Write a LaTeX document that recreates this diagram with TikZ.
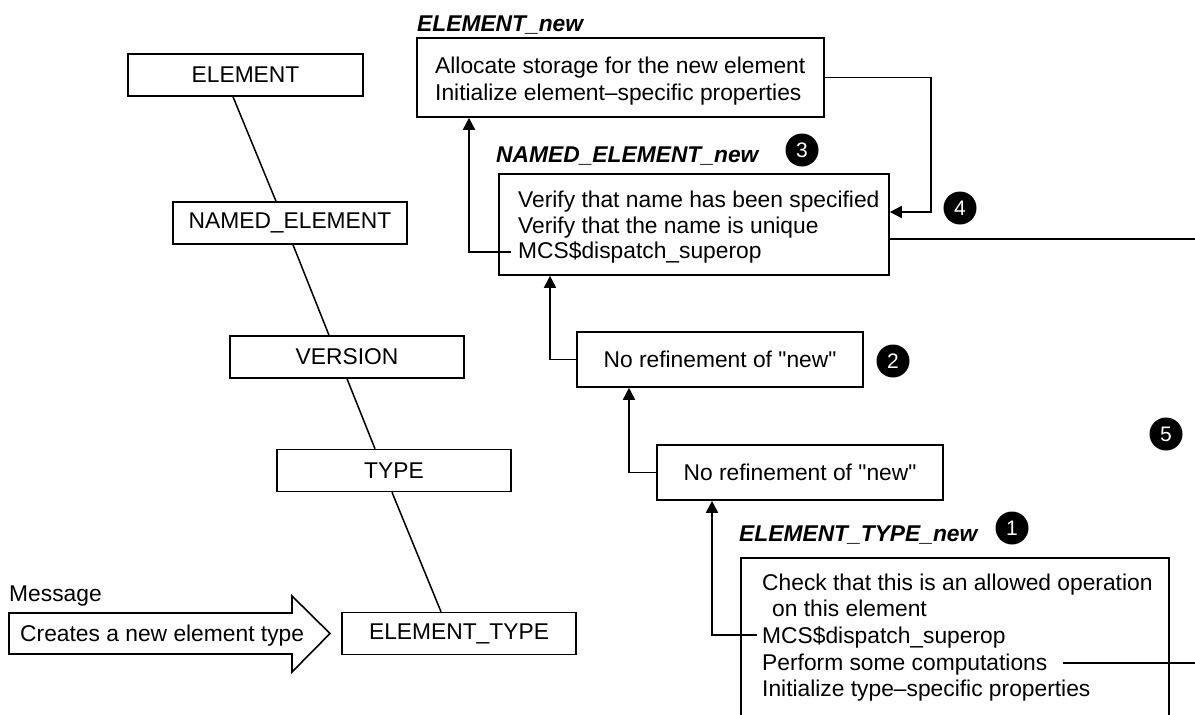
\documentclass[tikz,border=0pt]{standalone}
\usepackage{fontspec}
\setmainfont{Liberation Sans}[Ligatures=TeXOff]
\usetikzlibrary{arrows.meta,calc}

\tikzset{
  base/.style={font=\fontsize{22.8}{26}\selectfont},
  cls/.style={base, draw, line width=1.5pt, minimum width=234pt, minimum height=42pt, inner sep=0pt},
  frame/.style={base, draw, line width=1.6pt, inner sep=0pt},
  txt/.style={base, anchor=base west, inner sep=0pt},
  title/.style={font=\fontsize{22.8}{26}\selectfont\bfseries\itshape, anchor=base west, inner sep=0pt},
  badge/.style={circle, fill=black, text=white, minimum size=33pt, inner sep=0pt, font=\fontsize{21}{21}\selectfont},
  flow/.style={line width=1.6pt, -{Triangle[width=12pt,length=12pt]}},
  wire/.style={line width=1.6pt},
  link/.style={line width=1.5pt},
}

\begin{document}
\begin{tikzpicture}[x=1pt, y=-1pt]
\useasboundingbox (0,0) rectangle (1195,715);
\clip (0,0) rectangle (1195,715);

% class hierarchy
\node[cls, minimum width=235pt] (hElem) at (245.5,75) {ELEMENT};
\node[cls] (hNamed) at (290,223) {NAMED\_ELEMENT};
\node[cls] (hVersion) at (347,357) {VERSION};
\node[cls] (hType) at (394,470.5) {TYPE};
\node[cls] (hEtype) at (459,633.5) {ELEMENT\_TYPE};

\draw[link] ([xshift=-12.5pt]hElem.south) -- ([xshift=-14pt]hNamed.north);
\draw[link] ([xshift=3pt]hNamed.south) -- ([xshift=-18pt]hVersion.north);
\draw[link] (hVersion.south) -- ([xshift=-19pt]hType.north);
\draw[link] ([xshift=-2pt]hType.south) -- ([xshift=-18pt]hEtype.north);

% incoming message
\node[txt] (msg) at (9,601) {Message};
\draw[wire] (9,613) -- (292,613) -- (292,596) -- (330,633.5) -- (292,672) -- (292,654) -- (9,654) -- cycle;
\node[txt] (msgtxt) at (20,641) {Creates a new element type};

% ELEMENT_new
\node[title] (tElemNew) at (417,31) {ELEMENT\_new};
\node[frame, minimum width=407pt, minimum height=79pt] (bElemNew) at (620.5,77.5) {};
\node[txt] (e1) at (435,73) {Allocate storage for the new element};
\node[txt] (e2) at (435,100) {Initialize element–specific properties};

% NAMED_ELEMENT_new
\node[title] (tNamedNew) at (496,162) {NAMED\_ELEMENT\_new};
\node[badge] (b3) at (802,150) {3};
\node[frame, minimum width=390pt, minimum height=101pt] (bNamedNew) at (694,224.5) {};
\node[txt] (n1) at (518,207) {Verify that name has been specified};
\node[txt] (n2) at (518,233) {Verify that the name is unique};
\node[txt] (n3) at (518,258) {MCS\$dispatch\_superop};
\node[badge] (b4) at (960,208) {4};

% VERSION and TYPE refinements
\node[frame, base, minimum width=286pt, minimum height=55pt] (bNr2) at (720,359.5) {No refinement of "new"};
\node[badge] (b2) at (893,361) {2};
\node[frame, base, minimum width=286pt, minimum height=55pt] (bNr3) at (800,472.5) {No refinement of "new"};
\node[badge] (b5) at (1166,434) {5};

% ELEMENT_TYPE_new
\node[title] (tEtNew) at (739,541) {ELEMENT\_TYPE\_new};
\node[badge] (b1) at (1012,528) {1};
\node[frame, minimum width=428pt, minimum height=202pt] (bEtNew) at (955,659) {};
\node[txt] (t1) at (762,590) {Check that this is an allowed operation};
\node[txt] (t2) at (772,616) {on this element};
\node[txt] (t3) at (762,643) {MCS\$dispatch\_superop};
\node[txt] (t4) at (762,670) {Perform some computations};
\node[txt] (t5) at (762,696) {Initialize type–specific properties};

% superop dispatch chain
\coordinate (p1) at (511,252);
\coordinate (k1) at (469,0);
\draw[flow] (p1) -| (k1 |- bElemNew.south);

\coordinate (k2) at (550,0);
\draw[flow] (bNr2.west) -| (k2 |- bNamedNew.south);

\coordinate (k3) at (629,0);
\draw[flow] (bNr3.west) -| (k3 |- bNr2.south);

\coordinate (p4) at (757,635);
\coordinate (k4) at (712,0);
\draw[flow] (p4) -| (k4 |- bNr3.south);

% return from ELEMENT_new
\coordinate (r5) at (931,212);
\draw[flow] (bElemNew.east) -| (r5) -- (r5 -| bNamedNew.east);

% returns leaving to the right
\coordinate (e6) at (1200,239);
\draw[wire] (e6 -| bNamedNew.east) -- (e6);
\coordinate (p7) at (1063,663);
\coordinate (e7) at (1200,663);
\draw[wire] (p7) -- (e7);
\end{tikzpicture}
\end{document}
